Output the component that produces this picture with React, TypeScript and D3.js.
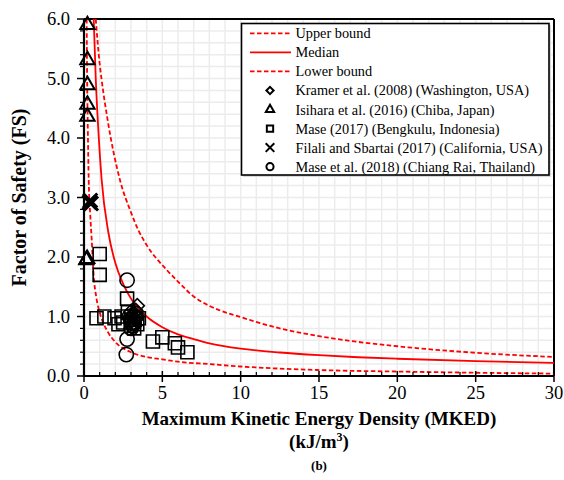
import React from "react";
import * as d3 from "d3";

// ---- Curves ----
const upperX = [0.75, 1.0, 1.13, 1.51, 2.3, 3.0, 3.47, 4.0, 5.29, 6.14, 6.89, 8.0, 8.7, 10, 12.5, 15, 17, 20, 25, 30];
const upperY = [6.0, 5.25, 4.97, 4.3, 3.29, 2.75, 2.45, 2.2, 1.78, 1.55, 1.36, 1.18, 1.1, 0.99, 0.8, 0.67, 0.59, 0.5, 0.39, 0.32];
const medianX = [0.62, 0.75, 0.88, 1.13, 1.55, 2.0, 2.5, 3.0, 4.0, 5.0, 6.0, 7.0, 8.0, 10, 12.5, 15, 17.5, 20, 25, 30];
const medianY = [6.0, 5.0, 4.3, 3.29, 2.42, 1.9, 1.55, 1.3, 1.0, 0.82, 0.7, 0.62, 0.55, 0.46, 0.395, 0.35, 0.315, 0.29, 0.25, 0.22];
const lowerX = [0.17, 0.2, 0.24, 0.3, 0.4, 0.49, 0.6, 0.8, 1.0, 1.5, 2.0, 3.0, 4.0, 5.0, 6.0, 8.0, 10, 15, 20, 25, 30];
const lowerY = [6.0, 5.0, 4.2, 3.3, 2.7, 2.3, 1.75, 1.3, 1.07, 0.75, 0.57, 0.4, 0.32, 0.28, 0.24, 0.2, 0.16, 0.1, 0.075, 0.055, 0.04];

// ---- Observations ----
const kramerX = [3.4, 3.3, 3.2, 3.1, 3.3, 3.0, 3.2, 3.1, 3.4, 2.9, 3.25, 3.0];
const kramerY = [1.18, 1.1, 1.05, 1.0, 0.95, 0.92, 0.88, 0.82, 1.0, 0.97, 0.85, 1.08];
const isiharaX = [0.22, 0.22, 0.22, 0.22, 0.22, 0.15, 0.2];
const isiharaY = [5.9, 5.31, 4.89, 4.56, 4.36, 1.95, 1.97];
const maseX = [0.8, 1.3, 1.95, 2.2, 2.4, 2.5, 2.75, 2.8, 3.0, 3.2, 3.4, 3.5, 1.0, 1.0, 4.4, 5.0, 5.8, 6.0, 6.6];
const maseY = [0.97, 1.0, 0.97, 0.87, 1.0, 0.9, 1.3, 1.07, 0.95, 0.8, 0.87, 0.97, 2.05, 1.7, 0.58, 0.65, 0.55, 0.48, 0.4];
const filaliX = [0.35, 0.4, 0.45];
const filaliY = [2.92, 2.95, 2.9];
const mase18X = [2.75, 2.75, 2.7, 3.0, 3.1, 3.2, 2.9, 3.0, 3.1, 3.2, 3.3];
const mase18Y = [1.61, 0.62, 0.36, 0.9, 0.95, 1.0, 1.0, 0.8, 0.85, 0.9, 1.05];

const xTicks = [0, 5, 10, 15, 20, 25, 30];
const yTicks = [0, 1, 2, 3, 4, 5, 6];
const legendLabels = [
  "Upper bound",
  "Median",
  "Lower bound",
  "Kramer et al. (2008) (Washington, USA)",
  "Isihara et al. (2016) (Chiba, Japan)",
  "Mase (2017) (Bengkulu, Indonesia)",
  "Filali and Sbartai (2017) (California, USA)",
  "Mase et al. (2018) (Chiang Rai, Thailand)",
];

const W = 564, H = 480;
const L = 84, R = 554, T = 19, B = 376;
const FONT = "Liberation Serif";

export default function App() {
  const x = d3.scaleLinear().domain([0, 30]).range([L, R]);
  const y = d3.scaleLinear().domain([0, 6]).range([B, T]);

  const line = (xs: number[], ys: number[]) =>
    d3.line<number>().x((_, i) => x(xs[i])).y((_, i) => y(ys[i])).curve(d3.curveMonotoneX)(xs.map((v) => v)) || "";

  const sq = (s: number) => d3.symbol().type(d3.symbolSquare).size(s)() || "";
  const ci = (s: number) => d3.symbol().type(d3.symbolCircle).size(s)() || "";
  const tri = (s: number) => d3.symbol().type(d3.symbolTriangle).size(s)() || "";
  const xs = (s: number) => d3.symbol().type(d3.symbolTimes).size(s)() || "";

  const vGrid = d3.range(1, 30, 1);
  const hGrid = d3.range(1, 30, 1).map((i) => i * 0.2);
  const xMinor = d3.range(1, 30, 1).filter((v) => v % 5 !== 0);
  const yMinor = d3.range(1, 30, 1).filter((i) => i % 5 !== 0).map((i) => i * 0.2);

  const red = "#ff0000";
  const dash = "4.5,2.5";

  const legendY = (i: number) => 33.3 + i * 19.05;
  const tStyle = { fontFamily: FONT };

  return (
    <svg width={W} height={H} style={{ position: "absolute", left: 0, top: 0, background: "#fff", fontFamily: FONT }}>
      <defs>
        <clipPath id="plotclip">
          <rect x={L} y={T} width={R - L} height={B - T} />
        </clipPath>
      </defs>
      <rect x={0} y={0} width={W} height={H} fill="#fff" />
      {/* grid */}
      {vGrid.map((v) => (
        <line key={"vg" + v} x1={x(v)} x2={x(v)} y1={T} y2={B} stroke="#ececec" strokeWidth={1.5} />
      ))}
      {hGrid.map((v, i) => (
        <line key={"hg" + i} x1={L} x2={R} y1={y(v)} y2={y(v)} stroke="#ececec" strokeWidth={1.5} />
      ))}
      {/* frame */}
      <line x1={L} x2={R} y1={T} y2={T} stroke="#000" strokeWidth={2} />
      <line x1={R} x2={R} y1={T} y2={B} stroke="#000" strokeWidth={2} />

      {/* curves */}
      <g clipPath="url(#plotclip)" fill="none" strokeWidth={1.8}>
        <path d={line(upperX, upperY)} stroke={red} strokeDasharray={dash} />
        <path d={line(medianX, medianY)} stroke={red} />
        <path d={line(lowerX, lowerY)} stroke={red} strokeDasharray={dash} />
      </g>

      {/* markers */}
      <g fill="none" stroke="#000" strokeWidth={1.6}>
        {maseX.map((v, i) => (
          <path key={"m" + i} d={sq(170)} transform={`translate(${x(v)},${y(maseY[i])})`} />
        ))}
        {kramerX.map((v, i) => (
          <path key={"k" + i} d={sq(100)} transform={`translate(${x(v)},${y(kramerY[i])}) rotate(45)`} />
        ))}
        {mase18X.map((v, i) => (
          <path key={"c" + i} d={ci(160)} transform={`translate(${x(v)},${y(mase18Y[i])})`} />
        ))}
        {isiharaX.map((v, i) => (
          <path key={"t" + i} d={tri(90)} strokeWidth={2} transform={`translate(${x(v)},${y(isiharaY[i])})`} />
        ))}
        {filaliX.map((v, i) => (
          <path key={"f" + i} d={xs(130)} strokeWidth={3} transform={`translate(${x(v)},${y(filaliY[i])})`} />
        ))}
      </g>

      {/* axes */}
      <line x1={L} x2={L} y1={T} y2={B + 1} stroke="#000" strokeWidth={2.2} />
      <line x1={L - 1} x2={R} y1={B} y2={B} stroke="#000" strokeWidth={2.2} />
      {xTicks.map((v) => (
        <line key={"xt" + v} x1={x(v)} x2={x(v)} y1={B - 5} y2={B + 6} stroke="#000" strokeWidth={1.5} />
      ))}
      {xMinor.map((v) => (
        <line key={"xm" + v} x1={x(v)} x2={x(v)} y1={B - 4} y2={B} stroke="#000" strokeWidth={1.2} />
      ))}
      {yTicks.map((v) => (
        <line key={"yt" + v} x1={L - 7} x2={L} y1={y(v)} y2={y(v)} stroke="#000" strokeWidth={1.5} />
      ))}
      {yMinor.map((v, i) => (
        <line key={"ym" + i} x1={L - 4} x2={L} y1={y(v)} y2={y(v)} stroke="#000" strokeWidth={1.2} />
      ))}
      {xTicks.map((v) => (
        <text key={"xl" + v} style={tStyle} x={x(v)} y={B + 23} textAnchor="middle" fontSize={18.5} fill="#000">
          {v}
        </text>
      ))}
      {yTicks.map((v) => (
        <text key={"yl" + v} style={tStyle} x={L - 14} y={y(v)} dy="0.35em" textAnchor="end" fontSize={18.5} fill="#000">
          {v.toFixed(1)}
        </text>
      ))}

      {/* axis titles */}
      <text style={tStyle} x={(L + R) / 2} y={425} textAnchor="middle" fontSize={19} fontWeight="bold" fill="#000">
        Maximum Kinetic Energy Density (MKED)
      </text>
      <text style={tStyle} x={(L + R) / 2} y={448} textAnchor="middle" fontSize={19} fontWeight="bold" fill="#000">
        (kJ/m<tspan dy={-7} fontSize={12}>3</tspan>
        <tspan dy={7}>)</tspan>
      </text>
      <text style={tStyle} x={(L + R) / 2} y={470} textAnchor="middle" fontSize={13} fontWeight="bold" fill="#000">
        (b)
      </text>
      <text
        style={tStyle}
        transform={`translate(26,${(T + B) / 2}) rotate(-90)`}
        textAnchor="middle"
        fontSize={20}
        fontWeight="bold"
        fill="#000"
      >
        Factor of Safety (FS)
      </text>

      {/* legend */}
      <rect x={243} y={25} width={308} height={152} fill="#d8d8d8" />
      <rect x={241.5} y={23.5} width={307.5} height={151.5} fill="#fff" stroke="#000" strokeWidth={1.6} />
      {legendLabels.map((lab, i) => (
        <text key={"lg" + i} style={tStyle} x={295.5} y={legendY(i)} dy="0.35em" fontSize={14.3} fill="#000">
          {lab}
        </text>
      ))}
      <line x1={250} x2={291} y1={legendY(0)} y2={legendY(0)} stroke={red} strokeWidth={1.8} strokeDasharray={dash} />
      <line x1={250} x2={291} y1={legendY(1)} y2={legendY(1)} stroke={red} strokeWidth={1.8} />
      <line x1={250} x2={291} y1={legendY(2)} y2={legendY(2)} stroke={red} strokeWidth={1.8} strokeDasharray={dash} />
      <g fill="none" stroke="#000" strokeWidth={2}>
        <path d={sq(26)} transform={`translate(270,${legendY(3)}) rotate(45)`} />
        <path d={tri(30)} transform={`translate(270,${legendY(4)})`} />
        <path d={sq(40)} transform={`translate(270,${legendY(5)})`} />
        <path d={xs(50)} transform={`translate(270,${legendY(6)})`} />
        <path d={ci(40)} transform={`translate(270,${legendY(7)})`} />
      </g>
    </svg>
  );
}
